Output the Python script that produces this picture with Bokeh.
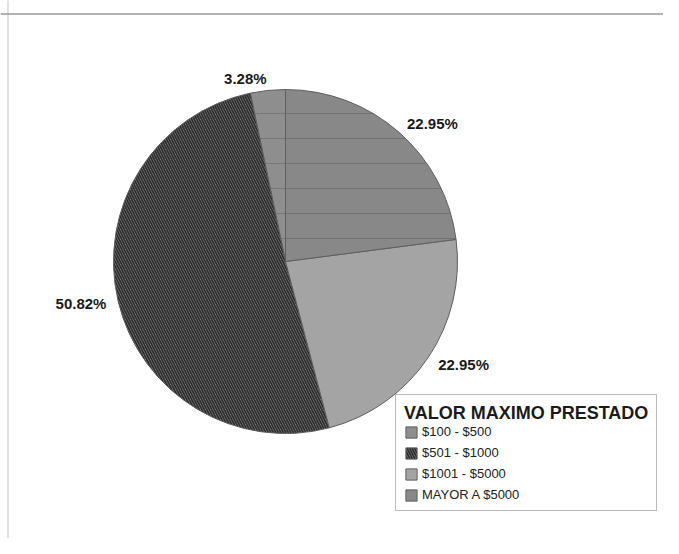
import math
from bokeh.plotting import figure
from bokeh.models import ColumnDataSource, Range1d, Legend, LegendItem, Span
from bokeh.core.properties import value
from bokeh.embed import file_html
from bokeh.resources import INLINE

# ---- data ----
categories = ["$100 - $500", "$501 - $1000", "$1001 - $5000", "MAYOR A $5000"]
percents = [3.28, 50.82, 22.95, 22.95]
percent_labels = ["3.28%", "50.82%", "22.95%", "22.95%"]
legend_title = "VALOR MAXIMO PRESTADO"

# ---- styles ----
fills = ["#8e8e8e", "#8c8c8c", "#a4a4a4", "#888888"]
hatches = ["horizontal_line", "left_diagonal_line", " ", "horizontal_line"]
hatch_colors = ["#777777", "#2c2c2c", "#a4a4a4", "#737373"]
hatch_scales = [25, 5, 12, 25]
hatch_weights = [1, 1.7, 1, 1]

W, H = 663, 538
CX, CY, R = 285, 277, 172
LABEL_R = 184

total = sum(percents)
starts, ends, mids = [], [], []
acc = 0.0
for v in percents:
    s = math.pi / 2 + 2 * math.pi * acc / total
    acc += v
    e = math.pi / 2 + 2 * math.pi * acc / total
    starts.append(s)
    ends.append(e)
    mids.append((s + e) / 2)

p = figure(width=W, height=H, output_backend="svg", toolbar_location=None,
           x_range=Range1d(0, W), y_range=Range1d(0, H), min_border=0)
p.axis.visible = False
p.grid.visible = False
p.outline_line_color = None
p.background_fill_color = "white"

# frame lines (top and left)
p.add_layout(Span(location=H - 13.5, dimension="width", line_color="#6a6a6a", line_width=1.2))
p.add_layout(Span(location=7.5, dimension="height", line_color="#8a8a8a", line_width=1, line_dash="1 1"))

rends = []
for i in range(len(categories)):
    r = p.wedge(x=CX, y=CY, radius=R, radius_units="screen",
                start_angle=starts[i], end_angle=ends[i], direction="anticlock",
                fill_color=fills[i], line_color="#5e5e5e", line_width=1,
                hatch_pattern=hatches[i], hatch_color=hatch_colors[i],
                hatch_scale=hatch_scales[i], hatch_weight=hatch_weights[i])
    rends.append(r)

# percent labels
lx, ly, align = [], [], []
for m in mids:
    c = math.cos(m)
    lx.append(CX + LABEL_R * c)
    ly.append(CY + LABEL_R * math.sin(m))
    align.append("right" if c < 0 else "left")
lsrc = ColumnDataSource(dict(x=lx, y=ly, t=percent_labels, a=align))
p.text(x="x", y="y", text="t", text_align="a", text_baseline="middle",
       text_font_size="15px", text_font_style="bold", text_color="#1a1a1a",
       text_font=value("Liberation Sans"), source=lsrc)

legend = Legend(items=[LegendItem(label=categories[i], renderers=[rends[i]]) for i in range(len(categories))],
                location=(395, 27), title=legend_title,
                title_text_font="Liberation Sans", title_text_font_size="18px",
                title_text_font_style="bold", title_text_color="#1a1a1a", title_standoff=0,
                label_text_font="Liberation Sans", label_text_font_size="13px",
                label_text_color="#222222",
                glyph_width=14, glyph_height=14, label_height=14, label_standoff=4,
                spacing=6, padding=8, margin=0,
                border_line_color="#777777", border_line_width=1,
                background_fill_color="white", background_fill_alpha=1)
p.add_layout(legend, "center")

open("out.html", "w").write(file_html(p, INLINE))
